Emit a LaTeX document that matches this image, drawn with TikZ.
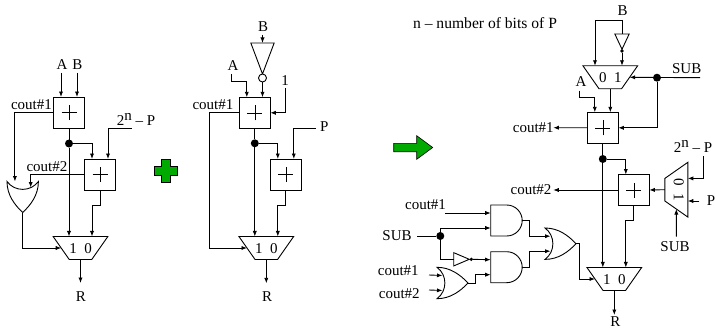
\documentclass[tikz,border=0pt]{standalone}
\usepackage{fontspec}
\setmainfont{Liberation Serif}
\usetikzlibrary{arrows.meta,calc,positioning}
\usetikzlibrary{shapes.geometric}
\newcommand{\twonp}{2\raisebox{5pt}{n} -- P}
\newcommand{\andbody}[1]{\path[draw] (#1.north west) -- ($(#1.north west)+(16,0)$) arc[start angle=90, end angle=-90, radius=15.5pt] -- (#1.south west) -- cycle;}
\newcommand{\orbody}[2]{\path[draw, shift={(#1.center)}, rotate=#2] (-15.5,-15.7) .. controls (-2,-15.7) and (8,-8) .. (15.5,0) .. controls (8,8) and (-2,15.7) .. (-15.5,15.7) .. controls (-5,8) and (-5,-8) .. cycle;}

\begin{document}
\begin{tikzpicture}[
    x=1pt, y=-1pt,
    >={Latex[length=5.5pt,width=4.2pt]},
    font=\fontsize{15}{15}\selectfont,
    line width=0.9pt,
    nosep/.style={inner sep=0, outer sep=0},
    lbl/.style={nosep},
    wire/.style={->},
    adder/.style={draw, nosep, minimum size=31pt, path picture={
        \path[draw, line width=0.6pt] ([xshift=-7.5pt]path picture bounding box.center) -- ([xshift=7.5pt]path picture bounding box.center);
        \path[draw, line width=0.6pt] ([yshift=-7.5pt]path picture bounding box.center) -- ([yshift=7.5pt]path picture bounding box.center);}},
    muxbox/.style={draw, nosep, trapezium, shape border rotate=180, inner ysep=6.5pt,
        text height=10pt, text depth=0pt, trapezium left angle=55, trapezium right angle=55},
    blob/.style={circle, fill=black, nosep, minimum size=8pt},
    pin/.style={circle, fill=black, nosep, minimum size=3.6pt},
    bubble/.style={circle, draw, fill=white, nosep, minimum size=8pt},
    inv/.style={draw, nosep, isosceles triangle, isosceles triangle stretches=true},
    gatebox/.style={nosep, minimum height=31pt, minimum width=31pt},
    badge/.style={draw=black, line width=0.6pt, fill={rgb,255:red,0;green,170;blue,0}}]
\useasboundingbox (0,0) rectangle (715,329);

\node[lbl] (LA) at (62,65) {A};
\node[lbl] (LB) at (77.5,65) {B};
\node[lbl] (LCOUTA) at (31.5,105) {cout\#1};
\node[lbl] (LCOUTB) at (47,166.7) {cout\#2};
\node[lbl] (LPP) at (136,119) {\twonp};
\node[lbl] (LR) at (81,297) {R};
\node[adder] (LADDA) at (69,112.5) {};
\node[adder] (LADDB) at (100,174.5) {};
\node[blob] (LDOT) at (69,143.5) {};
\node[gatebox, rotate=-90] (LOR) at (22.7,197) {};
\orbody{LOR}{-90}
\node[muxbox] (LMUX) at (80.5,248) {1\hspace{7.5pt}0};
\coordinate (LAS) at (61,73);
\coordinate (LBS) at (77,73);
\coordinate (LPS) at (131.5,128.5);
\coordinate (LRE) at (80.5,283);
\path[draw, wire] (LAS) -- ([xshift=-8pt]LADDA.north);
\path[draw, wire] (LBS) -- ([xshift=8pt]LADDA.north);
\path[draw, wire] (LADDA.west) -| ($(LOR.west)+(-7.8,0)$);
\path[draw, wire] (LADDB.west) -| ($(LOR.west)+(8,6)$);
\path[draw] (LADDA.south) -- (LDOT);
\path[draw, wire] (LDOT) -- ([xshift=-11.5pt]LMUX.north);
\path[draw, wire] (LDOT) -| ([xshift=-8pt]LADDB.north);
\path[draw, wire] (LPS) -| ([xshift=8pt]LADDB.north);
\path[draw, wire] (LADDB.south) |- ($(LADDB.south)+(-8,15)$) -- ([xshift=11.5pt]LMUX.north);
\path[draw, wire] (LOR.east) |- (LMUX.west);
\path[draw, wire] (LMUX.south) -- (LRE);

\path[draw, badge] (161.7,159) -- (170,159) -- (170,166.7) -- (177.7,166.7) -- (177.7,175) -- (170,175) -- (170,182.7) -- (161.7,182.7) -- (161.7,175) -- (154,175) -- (154,166.7) -- (161.7,166.7) -- cycle;

\node[lbl] (MB) at (263,27) {B};
\node[lbl] (MA) at (233,65.7) {A};
\node[lbl] (MONE) at (285,80.7) {1};
\node[lbl] (MCOUT) at (213,105) {cout\#1};
\node[lbl] (MP) at (324.3,126.7) {P};
\node[lbl] (MR) at (267,296.7) {R};
\node[inv, rotate=-90, anchor=apex, minimum width=23.3pt, minimum height=31pt] (MINV) at (262.5,74) {};
\node[bubble] (MBUB) at (262.5,78) {};
\node[adder] (MADDA) at (254.8,112.8) {};
\node[adder] (MADDB) at (285.8,174.5) {};
\node[blob] (MDOT) at (254.8,143.3) {};
\node[muxbox] (MMUX) at (266.3,248) {1\hspace{7.5pt}0};
\coordinate (MBS) at (262.5,35);
\coordinate (MAS) at (231.3,74);
\coordinate (MOS) at (285.7,88.3);
\coordinate (MPS) at (315.7,128.3);
\coordinate (MRE) at (266.3,283.3);
\path[draw, wire] (MBS) -- (MINV.lower side);
\path[draw, wire] (MBUB) -- (MBUB |- MADDA.north);
\path[draw, wire] (MAS) |- ($(MAS)+(8,7.7)$) -| ([xshift=-8pt]MADDA.north);
\path[draw, wire] (MOS) |- (MADDA.east);
\path[draw, wire] (MADDA.west) -| ($(MMUX.west)+(-38,0)$) -- (MMUX.west);
\path[draw] (MADDA.south) -- (MDOT);
\path[draw, wire] (MDOT) -- (MDOT |- MMUX.north);
\path[draw, wire] (MDOT) -| ([xshift=-8pt]MADDB.north);
\path[draw, wire] (MPS) -| ([xshift=8pt]MADDB.north);
\path[draw, wire] (MADDB.south) |- ($(MADDB.south)+(-8,15.5)$) -- ([xshift=11.5pt]MMUX.north);
\path[draw, wire] (MMUX.south) -- (MRE);

\path[draw, badge] (393.7,143.3) -- (416.7,143.3) -- (416.7,135.7) -- (432.7,147.5) -- (416.7,159.3) -- (416.7,151.7) -- (393.7,151.7) -- cycle;

\node[lbl, font=\fontsize{15.6}{15.6}\selectfont] (NOTE) at (485,23.3) {n -- number of bits of P};

\node[lbl] (RB) at (622.7,11) {B};
\node[lbl] (RSUBA) at (686.7,69) {SUB};
\node[lbl] (RA) at (581,81.7) {A};
\node[lbl] (RCOUTA) at (533.3,127.7) {cout\#1};
\node[lbl] (RCOUTB) at (531,189.3) {cout\#2};
\node[lbl] (RPP) at (693,146) {\twonp};
\node[lbl] (RP) at (711,200.7) {P};
\node[lbl] (RSUBB) at (675,246.7) {SUB};
\node[lbl] (RCA) at (425.5,204.3) {cout\#1};
\node[lbl] (RSUBC) at (397,235.7) {SUB};
\node[lbl] (RCB) at (398.3,270.7) {cout\#1};
\node[lbl] (RCC) at (399.3,293.3) {cout\#2};
\node[lbl] (RR) at (615.3,322) {R};
\node[inv, rotate=-90, anchor=apex, minimum width=14.3pt, minimum height=15.3pt] (RINVA) at (622,49.3) {};
\node[pin] (RPINA) at (622,51) {};
\node[muxbox] (RMUXA) at (610.3,77.3) {0\hspace{7.5pt}1};
\node[blob] (RDOTA) at (657,77.7) {};
\node[adder] (RADDA) at (602.8,127.8) {};
\node[blob] (RDOTB) at (602.8,159) {};
\node[adder] (RADDB) at (633.8,190) {};
\node[muxbox, rotate=-90] (RMUXB) at (676.3,189.7) {\raisebox{2.5pt}{0\hspace{7.5pt}1}};
\node[gatebox] (RANDA) at (506.2,220.5) {};
\andbody{RANDA}
\node[gatebox] (RANDB) at (506.2,267.2) {};
\andbody{RANDB}
\node[gatebox] (RORA) at (560.5,243.7) {};
\orbody{RORA}{0}
\node[gatebox] (RORB) at (452.5,283) {};
\orbody{RORB}{0}
\node[inv, anchor=apex, minimum width=13.3pt, minimum height=15.6pt] (RINVB) at (469.3,259.3) {};
\node[pin] (RPINB) at (471.3,259.3) {};
\node[blob] (RDOTC) at (440.3,236) {};
\node[muxbox] (RMUXC) at (614.3,279) {1\hspace{7.5pt}0};
\coordinate (RBT) at (622,20);
\coordinate (RSS) at (700,77.7);
\coordinate (RAS) at (579.7,90.7);
\coordinate (RCAE) at (553.3,127.7);
\coordinate (RCBE) at (553.3,190);
\coordinate (RPPS) at (703.3,156);
\coordinate (RPS) at (699.3,201);
\coordinate (RSB) at (676.3,236.7);
\coordinate (RCAS) at (445,213);
\coordinate (RSC) at (417.3,236);
\coordinate (RCBS) at (429,275);
\coordinate (RCCS) at (429,290);
\coordinate (RRE) at (614.3,315);
\path[draw] (RBT) -- (RINVA.lower side);
\path[draw, wire] (RBT) -| ([xshift=-15.3pt]RMUXA.north);
\path[draw, wire] (RPINA) -- (RPINA |- RMUXA.north);
\path[draw, wire] (RSS) -- (RMUXA.east);
\path[draw, wire] (RDOTA) |- (RADDA.east);
\path[draw, wire] (RAS) |- ($(RAS)+(8,6.6)$) -| ([xshift=-8pt]RADDA.north);
\path[draw, wire] (RMUXA.south) -- ([xshift=7.5pt]RADDA.north);
\path[draw, wire] (RADDA.west) -- (RCAE);
\path[draw] (RADDA.south) -- (RDOTB);
\path[draw, wire] (RDOTB) -- (RDOTB |- RMUXC.north);
\path[draw, wire] (RDOTB) -| ([xshift=-8pt]RADDB.north);
\path[draw, wire] (RADDB.west) -- (RCBE);
\path[draw, wire] (RMUXB.south) -- (RADDB.east);
\path[draw, wire] (RPPS) |- ([yshift=11.3pt]RMUXB.north);
\path[draw, wire] (RPS) -- ([yshift=-11.3pt]RMUXB.north);
\path[draw, wire] (RSB) -- (RMUXB.east);
\path[draw, wire] (RADDB.south) |- ($(RADDB.south)+(-8,15)$) -- ([xshift=11.5pt]RMUXC.north);
\path[draw, wire] (RCAS) -- ([yshift=7.5pt]RANDA.west);
\path[draw] (RSC) -- (RDOTC);
\path[draw, wire] (RDOTC) |- ([yshift=-7.5pt]RANDA.west);
\path[draw] (RDOTC) |- (RINVB.lower side);
\path[draw, wire] (RPINB) -- ([yshift=7.5pt]RANDB.west);
\path[draw, wire] (RORB.east) -- ($(RORB.east)+(7,0)$) |- ([yshift=-7.5pt]RANDB.west);
\path[draw, wire] (RCBS) -- ($(RORB.west)+(5.5,-7.5)$);
\path[draw, wire] (RCCS) -- ($(RORB.west)+(5.5,7.5)$);
\path[draw, wire] (RANDA.east) -- ($(RANDA.east)+(7.3,0)$) |- ($(RORA.west)+(5.5,-7.5)$);
\path[draw, wire] (RANDB.east) -- ($(RANDB.east)+(7.3,0)$) |- ($(RORA.west)+(5.5,7.5)$);
\path[draw, wire] (RORA.east) -- ($(RORA.east)+(3.3,0)$) |- (RMUXC.west);
\path[draw, wire] (RMUXC.south) -- (RRE);
\end{tikzpicture}
\end{document}
